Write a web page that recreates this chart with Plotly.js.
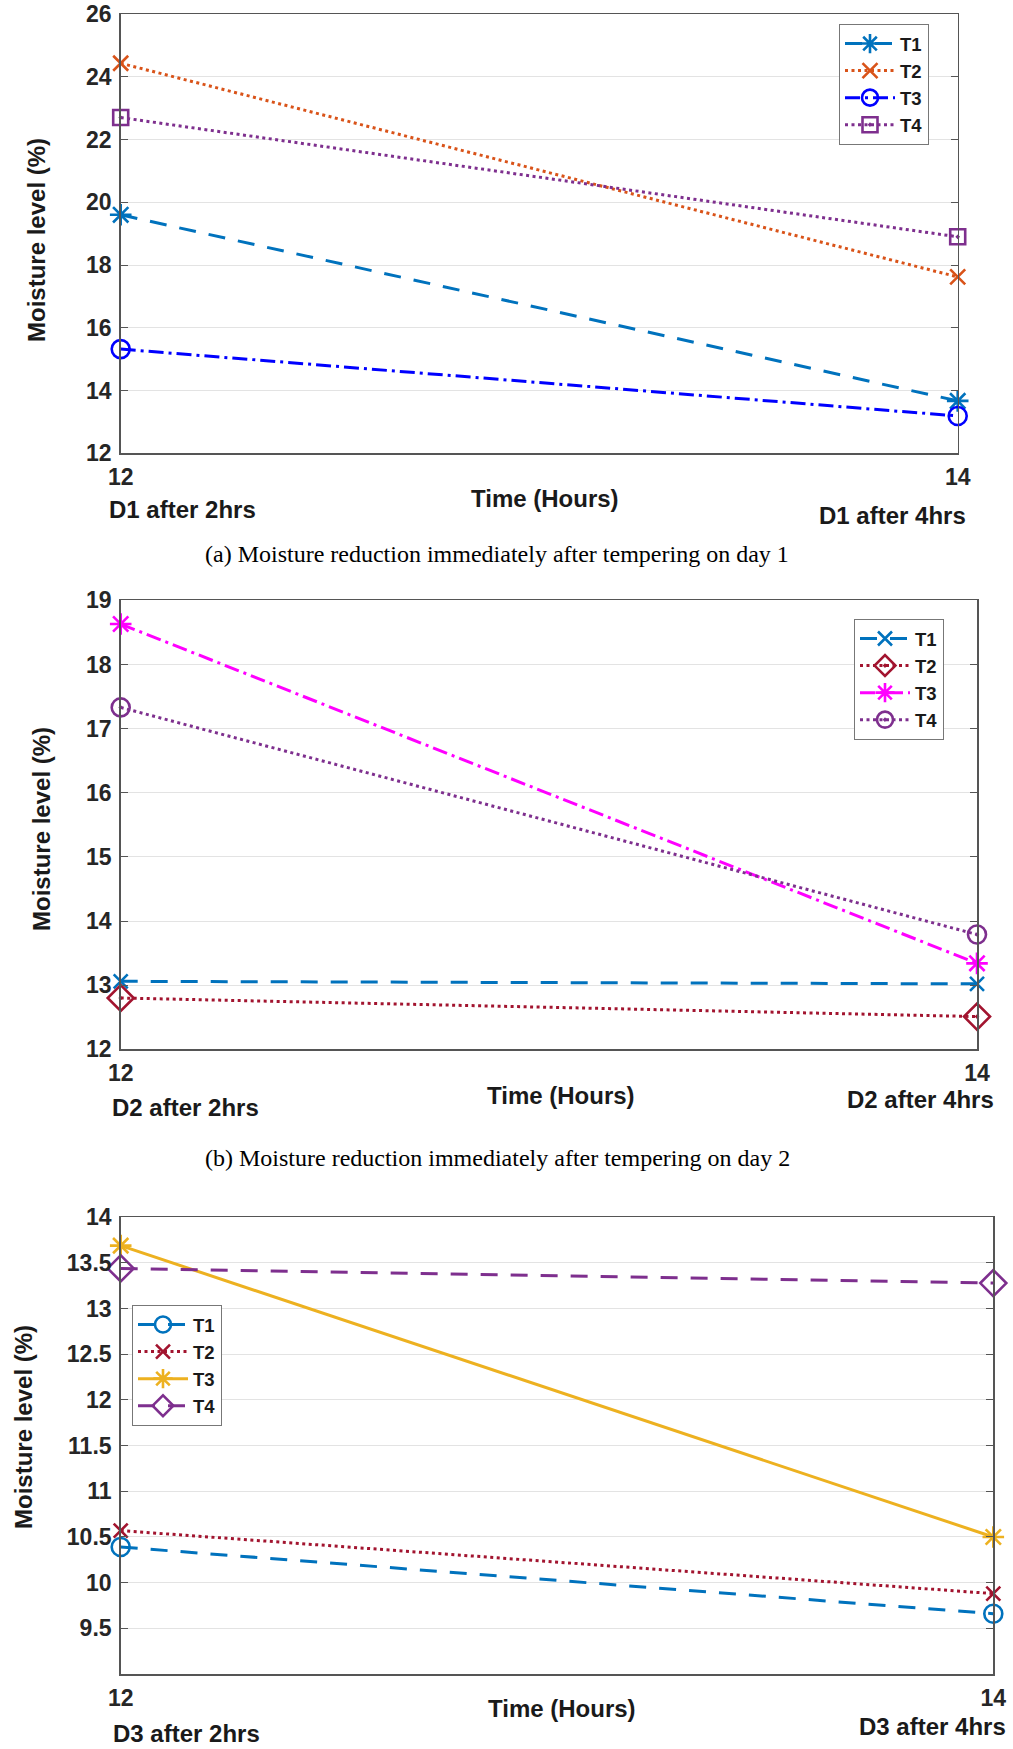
<!DOCTYPE html>
<html>
<head>
<meta charset="utf-8">
<script src="https://cdn.plot.ly/plotly-3.0.1.min.js"></script>
<style>html,body{margin:0;padding:0;background:#fff;}#chart{width:1013px;height:1749px;}</style>
</head>
<body>
<div id="chart"></div>
<script>
// ---------------- data ----------------
const hours = [12, 14];
const xTickText = ['12', '14'];
const seriesNames = ['T1', 'T2', 'T3', 'T4'];

// (a) Day 1
const d1T1 = [19.60, 13.67];
const d1T2 = [24.43, 17.62];
const d1T3 = [15.32, 13.19];
const d1T4 = [22.70, 18.90];
// (b) Day 2
const d2T1 = [13.06, 13.02];
const d2T2 = [12.80, 12.51];
const d2T3 = [18.63, 13.34];
const d2T4 = [17.33, 13.79];
// (c) Day 3
const d3T1 = [10.39, 9.66];
const d3T2 = [10.57, 9.88];
const d3T3 = [13.69, 10.50];
const d3T4 = [13.44, 13.28];

const y1Ticks = [12, 14, 16, 18, 20, 22, 24, 26];
const y2Ticks = [12, 13, 14, 15, 16, 17, 18, 19];
const y3Ticks = [9.5, 10, 10.5, 11, 11.5, 12, 12.5, 13, 13.5, 14];
const y3TickText = ['9.5', '10', '10.5', '11', '11.5', '12', '12.5', '13', '13.5', '14'];

const startLabels = ['D1 after 2hrs', 'D2 after 2hrs', 'D3 after 2hrs'];
const endLabels = ['D1 after 4hrs', 'D2 after 4hrs', 'D3 after 4hrs'];
const xTitle = 'Time (Hours)';
const yTitle = 'Moisture level (%)';
const captions = ['(a) Moisture reduction immediately after tempering on day 1',
                  '(b) Moisture reduction immediately after tempering on day 2'];

// ---------------- helpers ----------------
const W = 1013, H = 1749;
const px = v => v / W;
const py = v => 1 - v / H;

const BLUE = '#0072BD', ORANGE = '#D95319', PURPLE = '#7E2F8E', DRED = '#A2142F',
      YELLOW = '#EDB120', PBLUE = '#0000FF', MAGENTA = '#FF00FF';
const DASH = '17px,13px', DOT = '3px,3.5px', DASHDOT = '15px,5px,3px,5px';

function tr(name, ys, color, dash, symbol, msize, axis, legend) {
  return {
    x: hours, y: ys, name: name, type: 'scatter', mode: 'lines+markers',
    line: {color: color, width: 3, dash: dash},
    marker: {symbol: symbol, size: msize, color: color, line: {color: color, width: 2.6}},
    xaxis: 'x' + axis, yaxis: 'y' + axis, legend: legend, cliponaxis: false
  };
}

const data = [
  tr(seriesNames[0], d1T1, BLUE, DASH, 'asterisk-open', 18, '', 'legend'),
  tr(seriesNames[1], d1T2, ORANGE, DOT, 'x-thin-open', 15, '', 'legend'),
  tr(seriesNames[2], d1T3, PBLUE, DASHDOT, 'circle-open', 18, '', 'legend'),
  tr(seriesNames[3], d1T4, PURPLE, DOT, 'square-open-dot', 15, '', 'legend'),

  tr(seriesNames[0], d2T1, BLUE, DASH, 'x-thin-open', 14, '2', 'legend2'),
  tr(seriesNames[1], d2T2, DRED, DOT, 'diamond-open-dot', 20, '2', 'legend2'),
  tr(seriesNames[2], d2T3, MAGENTA, DASHDOT, 'asterisk-open', 18, '2', 'legend2'),
  tr(seriesNames[3], d2T4, PURPLE, DOT, 'circle-open-dot', 18, '2', 'legend2'),

  tr(seriesNames[0], d3T1, BLUE, DASH, 'circle-open', 18, '3', 'legend3'),
  tr(seriesNames[1], d3T2, DRED, DOT, 'x-thin-open', 14, '3', 'legend3'),
  tr(seriesNames[2], d3T3, YELLOW, 'solid', 'asterisk-open', 18, '3', 'legend3'),
  tr(seriesNames[3], d3T4, PURPLE, DASH, 'diamond-open', 20, '3', 'legend3')
];

const FONT = 'Liberation Sans, Arial, sans-serif';
const tickFont = {family: FONT, size: 23, color: '#262626', weight: 'bold'};

function xax(l, r, anchor) {
  return {
    domain: [px(l), px(r)], anchor: anchor, range: [12, 14],
    tickvals: hours, ticktext: xTickText, ticks: '', showgrid: false,
    zeroline: false, showline: true, linecolor: '#555', linewidth: 1.5, mirror: true,
    tickfont: tickFont, ticklabelstandoff: 3, fixedrange: true
  };
}
function yax(top, bot, anchor, range, tv, tt) {
  return {
    domain: [py(bot), py(top)], anchor: anchor, range: range,
    tickvals: tv, ticktext: tt, ticks: 'inside', ticklen: 7, tickcolor: '#555',
    showgrid: true, gridcolor: '#e3e3e3', gridwidth: 1, zeroline: false,
    showline: true, linecolor: '#555', linewidth: 1.5, mirror: 'ticks',
    tickfont: tickFont, ticklabelstandoff: 3, fixedrange: true
  };
}

function legendAt(l, t, w) {
  return {
    x: px(l), y: py(t), xanchor: 'left', yanchor: 'top',
    bgcolor: '#fff', bordercolor: '#777', borderwidth: 1,
    font: {family: FONT, size: 18.5, color: '#1a1a1a', weight: 'bold'},
    itemwidth: 50, tracegroupgap: 0, entrywidth: w, entrywidthmode: 'pixels'
  };
}

const labFont = {family: FONT, size: 24, color: '#1a1a1a', weight: 'bold'};
const annotations = [];
function ann(text, x, y, xanchor, font, angle) {
  annotations.push({text: text, xref: 'paper', yref: 'paper', x: px(x), y: py(y),
    xanchor: xanchor, yanchor: 'middle', showarrow: false, font: font, textangle: angle || 0});
}
// panel 1
ann(startLabels[0], 107, 510, 'left', labFont);
ann(endLabels[0], 968, 515, 'right', labFont);
ann(xTitle, 545, 498, 'center', labFont);
ann(yTitle, 37, 240, 'center', labFont, -90);
ann(captions[0], 497, 554, 'center', {family: 'Liberation Serif, Times New Roman, serif', size: 24, color: '#000'});
// panel 2
ann(startLabels[1], 110, 1107, 'left', labFont);
ann(endLabels[1], 996, 1099, 'right', labFont);
ann(xTitle, 561, 1095, 'center', labFont);
ann(yTitle, 42, 829, 'center', labFont, -90);
ann(captions[1], 497, 1158, 'center', {family: 'Liberation Serif, Times New Roman, serif', size: 24, color: '#000'});
// panel 3
ann(startLabels[2], 111, 1733, 'left', labFont);
ann(endLabels[2], 1008, 1726, 'right', labFont);
ann(xTitle, 562, 1708, 'center', labFont);
ann(yTitle, 23, 1427, 'center', labFont, -90);

const layout = {
  width: W, height: H, margin: {l: 0, r: 0, t: 0, b: 0},
  paper_bgcolor: '#fff', plot_bgcolor: '#fff', showlegend: true,
  xaxis: xax(120.7, 957.7, 'y'),
  yaxis: yax(14, 453.3, 'x', [12, 26], y1Ticks, y1Ticks.map(String)),
  xaxis2: xax(120.7, 977, 'y2'),
  yaxis2: yax(600.3, 1049.3, 'x2', [12, 19], y2Ticks, y2Ticks.map(String)),
  xaxis3: xax(120.7, 993.3, 'y3'),
  yaxis3: yax(1217.3, 1674, 'x3', [9, 14], y3Ticks, y3TickText),
  legend: legendAt(839, 24, 96),
  legend2: legendAt(854, 619, 99),
  legend3: legendAt(132, 1305, 90),
  annotations: annotations
};

Plotly.newPlot('chart', data, layout, {displayModeBar: false, responsive: false, staticPlot: true});
</script>
</body>
</html>
